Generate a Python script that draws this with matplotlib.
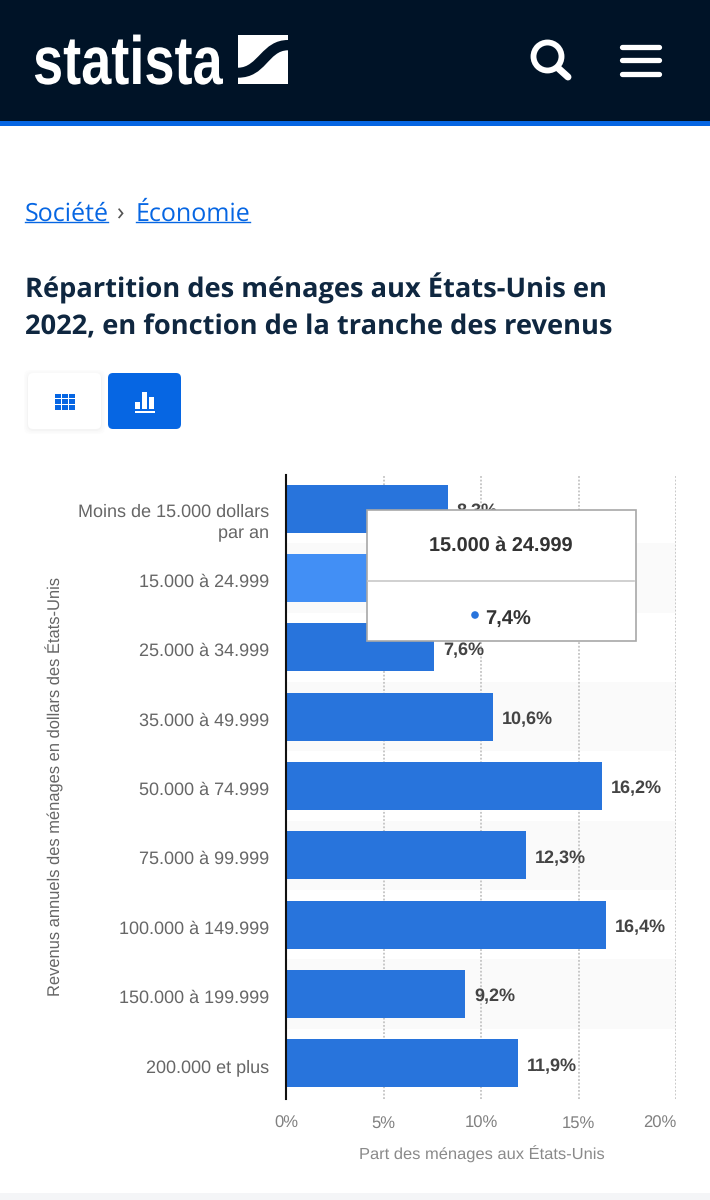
import matplotlib
matplotlib.use('Agg')
import matplotlib.pyplot as plt
import matplotlib.patheffects as pe
from matplotlib.patches import Rectangle, FancyBboxPatch, Circle, PathPatch
from matplotlib.path import Path
from matplotlib.transforms import Affine2D, ScaledTranslation

plt.rcParams['text.hinting'] = 'none'

categories = ['Moins de 15.000 dollars\npar an', '15.000 à 24.999', '25.000 à 34.999',
              '35.000 à 49.999', '50.000 à 74.999', '75.000 à 99.999',
              '100.000 à 149.999', '150.000 à 199.999', '200.000 et plus']
values = [8.3, 7.4, 7.6, 10.6, 16.2, 12.3, 16.4, 9.2, 11.9]
value_labels = ['8,3%', '7,4%', '7,6%', '10,6%', '16,2%', '12,3%', '16,4%', '9,2%', '11,9%']
x_ticks = [0, 5, 10, 15, 20]
x_tick_labels = ['0%', '5%', '10%', '15%', '20%']
highlighted = 1

NAVY = '#001327'
BLUE = '#0666e3'
BAR = '#2874dc'
ARIAL = 'Liberation Sans'


# the logo lettering is taller and narrower than any installed font
class StretchUp(pe.AbstractPathEffect):
    def __init__(self, baseline, factor):
        super().__init__()
        self.baseline = baseline
        self.factor = factor

    def draw_path(self, renderer, gc, tpath, affine, rgbFace=None):
        stretch = Affine2D().translate(0, -self.baseline).scale(1, self.factor).translate(0, self.baseline)
        renderer.draw_path(gc, tpath, affine + stretch, rgbFace)


fig = plt.figure(figsize=(7.1, 12), dpi=100, facecolor='white')

# page around the chart, in pixel coordinates
page = fig.add_axes([0, 0, 1, 1])
page.set_xlim(0, 710)
page.set_ylim(1200, 0)
page.axis('off')

page.add_patch(Rectangle((0, 0), 710, 121, color=NAVY, lw=0))
page.add_patch(Rectangle((0, 121), 710, 5, color=BLUE, lw=0))
page.add_patch(Rectangle((0, 1193), 710, 7, color='#f4f5f7', lw=0))

page.text(33, 84, 'statista', color='white', fontsize=39, fontweight='bold', family=ARIAL,
          va='baseline', ha='left', path_effects=[StretchUp(1200 - 84, 1.26)])

# logo square with its swoosh
page.add_patch(Rectangle((238, 34.7), 50, 49.6, color='white', lw=0))
swoosh = Path([(238, 67.7), (258, 67.7), (262, 40), (288, 40),
               (288, 50.3), (268, 50.3), (266, 77.7), (238, 77.7), (238, 67.7)],
              [Path.MOVETO, Path.CURVE4, Path.CURVE4, Path.CURVE4,
               Path.LINETO, Path.CURVE4, Path.CURVE4, Path.CURVE4, Path.CLOSEPOLY])
page.add_patch(PathPatch(swoosh, facecolor=NAVY, lw=0))

# search and menu icons
page.add_patch(Circle((547.5, 56.5), 14, facecolor='none', edgecolor='white', lw=4.2))
page.plot([558, 568], [68, 77], color='white', lw=5, solid_capstyle='round')
for y in [46.5, 60, 73.5]:
    page.plot([622, 659], [y, y], color='white', lw=3.8, solid_capstyle='round')

# breadcrumb
page.text(25, 214, 'Société', color=BLUE, fontsize=18, family='Open Sans', va='center')
page.plot([25, 108], [221.5, 221.5], color=BLUE, lw=1)
page.text(116, 214, '›', color='#555555', fontsize=18, family='Open Sans', va='center')
page.text(136, 214, 'Économie', color=BLUE, fontsize=18, family='Open Sans', va='center')
page.plot([136, 250], [221.5, 221.5], color=BLUE, lw=1)

# title
page.text(25, 288.5, 'Répartition des ménages aux États-Unis en', color='#0f2740', fontsize=19.65,
          fontweight='bold', family='Open Sans', va='center')
page.text(25, 328, '2022, en fonction de la tranche des revenus', color='#0f2740', fontsize=19.65,
          fontweight='bold', family='Open Sans', va='center')

# table / chart buttons
for grow, shade in [(4, '#fcfcfc'), (2.5, '#f9f9f9'), (1, '#f4f4f4')]:
    page.add_patch(FancyBboxPatch((28 - grow, 374 - grow), 73 + 2 * grow, 56 + 2 * grow,
                                  boxstyle='round,pad=0,rounding_size=7', fc=shade, lw=0))
page.add_patch(FancyBboxPatch((28, 373), 73, 56, boxstyle='round,pad=0,rounding_size=5', fc='white', lw=0))
page.add_patch(FancyBboxPatch((108, 373), 73, 56, boxstyle='round,pad=0,rounding_size=5', fc=BLUE, lw=0))
for i in range(3):
    for j in range(3):
        page.add_patch(Rectangle((54.5 + i * 7.3, 393.5 + j * 5.8), 6, 4.4, color=BLUE, lw=0))
for x0, top in [(135, 402), (142, 392), (149, 397)]:
    page.add_patch(Rectangle((x0, top), 5, 409 - top, color='white', lw=0))
page.add_patch(Rectangle((135, 411), 20, 1.6, color='white', lw=0))

# chart
ax = fig.add_axes([286 / 710, 1 - 1099 / 1200, 390 / 710, 624 / 1200])
ax.patch.set_alpha(0)
positions = list(range(len(categories)))
for i in positions:
    if i % 2 == 1:
        ax.axhspan(i - 0.5, i + 0.5, color='#fafafa', lw=0, zorder=0)
colors = ['#428ff5' if i == highlighted else BAR for i in positions]
ax.barh(positions, values, height=0.69, color=colors, zorder=3)
ax.set_xlim(0, 20)
ax.set_ylim(8.515, -0.485)
for x in x_ticks[1:]:
    ax.axvline(x, color='#c4c4c4', lw=1.3, ls=(0, (1, 1)), zorder=1)
for spine in ['top', 'right', 'bottom']:
    ax.spines[spine].set_visible(False)
ax.spines['left'].set_color('#111111')
ax.spines['left'].set_linewidth(1.5)
ax.spines['left'].set_zorder(4)

ax.set_yticks(positions)
ax.set_yticklabels(categories, family=ARIAL, fontsize=13, color='#666666', linespacing=1.35)
ax.tick_params(axis='y', length=0, pad=12)
for i, lab in enumerate(ax.get_yticklabels()):
    drop = 10 if i == 0 else 2.5
    lab.set_transform(lab.get_transform() + ScaledTranslation(0, -drop / 100, fig.dpi_scale_trans))
ax.set_xticks(x_ticks)
ax.set_xticklabels(x_tick_labels, family=ARIAL, fontsize=12, color='#808080')
ax.tick_params(axis='x', length=0, pad=12)
ax.get_xticklabels()[-1].set_ha('right')

for i, (v, lab) in enumerate(zip(values, value_labels)):
    ax.annotate(lab, (v, i), xytext=(6.5, -2), textcoords='offset points', va='center', ha='left',
                family=ARIAL, fontsize=13, fontweight='bold', color='#444444', zorder=5)

over = fig.add_axes([0, 0, 1, 1], zorder=10)
over.set_xlim(0, 710)
over.set_ylim(1200, 0)
over.axis('off')
over.text(55, 786, 'Revenus annuels des ménages en dollars des États-Unis', rotation=90, family=ARIAL,
          fontsize=11.9, color='#666666', ha='center', va='center')
over.text(482, 1154, 'Part des ménages aux États-Unis', family=ARIAL, fontsize=11.85, color='#8a8a8a',
          ha='center', va='center')

# tooltip
over.add_patch(Rectangle((367, 510), 269, 131, fc='white', ec='#a8a8a8', lw=1.2))
over.plot([368, 634], [580.5, 580.5], color='#c8c8c8', lw=1.2)
over.text(501, 546, '15.000 à 24.999', family=ARIAL, fontsize=14.3, fontweight='bold', color='#333333',
          ha='center', va='center')
over.add_patch(Circle((475, 615), 3.8, color=BAR, lw=0))
over.text(485, 620, '7,4%', family=ARIAL, fontsize=14.5, fontweight='bold', color='#333333',
          ha='left', va='center')

fig.savefig('out.png', dpi=100)
